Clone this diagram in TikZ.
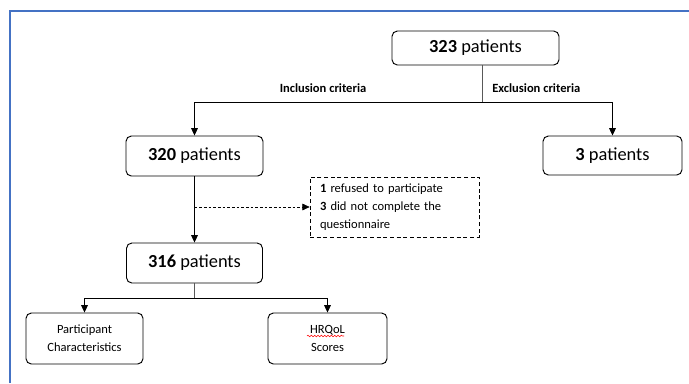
\documentclass[tikz,border=0pt]{standalone}
\usepackage{fontspec}
\setmainfont{Carlito}
\usetikzlibrary{arrows.meta,decorations.pathmorphing}
\definecolor{framebl}{RGB}{68,114,196}
\tikzset{
  box/.style={draw, rounded corners=4pt, line width=0.7pt, inner sep=0pt, align=center},
  bigtxt/.style={font=\fontsize{13.8}{16}\selectfont},
  smalltxt/.style={font=\fontsize{9.4}{13.5}\selectfont},
  lbl/.style={font=\bfseries\fontsize{9.4}{11}\selectfont, inner sep=0pt},
  conn/.style={line width=0.6pt},
  stem/.style={line width=0.6pt, black!65},
  arr/.style={line width=0.6pt, -{Triangle[length=5.5pt,width=5pt]}},
  dasharr/.style={line width=0.5pt, dashed, dash pattern=on 2pt off 1.5pt, -{Triangle[length=5.5pt,width=5pt]}},
  dbox/.style={draw, dashed, dash pattern=on 3pt off 2pt, line width=0.5pt, inner sep=0pt},
}
\begin{document}
\begin{tikzpicture}[x=0.75pt,y=-0.75pt]
\useasboundingbox (0,0) rectangle (689,383);
% blue frame
\draw[framebl, line width=1.2pt] (10,383) -- (10,11) -- (689,11);

\node[box, bigtxt, minimum width=167*0.75pt, minimum height=34*0.75pt] (n323) at (475.5,48) {\textbf{323} patients};
\node[box, bigtxt, minimum width=137*0.75pt, minimum height=40*0.75pt] (n320) at (194.5,156) {\textbf{320} patients};
\node[box, bigtxt, minimum width=139*0.75pt, minimum height=39*0.75pt] (n3) at (612.5,155.5) {\textbf{3} patients};
\node[box, bigtxt, minimum width=136*0.75pt, minimum height=40*0.75pt] (n316) at (194.5,263) {\textbf{316} patients};
\node[dbox, smalltxt, minimum width=169*0.75pt, minimum height=60*0.75pt, text width=149*0.75pt, align=left] (excl) at (394.5,207)
  {\textbf{1} refused to participate\\\textbf{3} did not complete the\\questionnaire};
\node[box, smalltxt, minimum width=117*0.75pt, minimum height=51*0.75pt] (pc) at (84.5,338.5) {Participant\\Characteristics};
\node[box, smalltxt, minimum width=119*0.75pt, minimum height=51*0.75pt] (hrq) at (327.5,338.5) {HRQoL\\Scores};

\node[lbl] (inc) at (323,88) {Inclusion criteria};
\node[lbl, anchor=west] (exc) at (492,88) {Exclusion criteria};

% connectors
\coordinate (j1) at (482,102);
\draw[stem] (j1 |- n323.south) -- (j1);
\draw[conn] (n320.north |- j1) -- (n3.north |- j1);
\draw[arr] (n320.north |- j1) -- (n320.north);
\draw[arr] (n3.north |- j1) -- (n3.north);

\draw[arr] (n320.south) -- (n316.north);
\draw[dasharr] (n320.south |- excl.west) -- (excl.west);

\coordinate (j2) at (194.5,298);
\draw[stem] (n316.south) -- (j2);
\draw[conn] (pc.north |- j2) -- (hrq.north |- j2);
\draw[arr] (pc.north |- j2) -- (pc.north);
\draw[arr] (hrq.north |- j2) -- (hrq.north);

% spell-check underline
\draw[red, line width=0.4pt, decorate, decoration={snake, amplitude=0.6pt, segment length=2.5pt}] (307,336) -- (344,336);
\end{tikzpicture}
\end{document}
